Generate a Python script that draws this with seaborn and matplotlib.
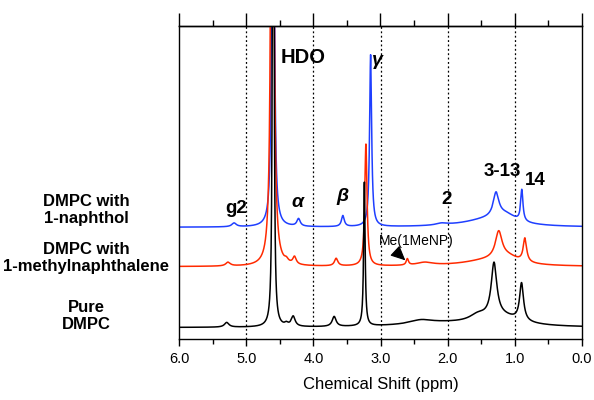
import numpy as np
import pandas as pd
import matplotlib
matplotlib.use("Agg")
import matplotlib.pyplot as plt
import seaborn as sns

# ---- data (ppm, height, half-width) ----
pure_base = 3.5
pure_pos = [5.29, 4.597, 4.40, 4.30, 3.69, 3.24, 2.40, 2.1, 1.55, 1.31, 1.20, 0.90]
pure_h   = [1.5, 420.0, 0.8, 3.2, 3.2, 46.0, 1.2, 1.2, 2.0, 17.0, 3.0, 12.0]
pure_w   = [0.04, 0.008, 0.03, 0.035, 0.035, 0.013, 0.2, 0.7, 0.15, 0.05, 0.35, 0.035]

mnp_base = 23.0
mnp_pos = [5.27, 4.61, 4.40, 4.28, 3.66, 3.217, 2.60, 2.34, 1.40, 1.24, 1.10, 0.85]
mnp_h   = [1.2, 420.0, 0.9, 2.4, 2.4, 39.0, 2.0, 1.0, 1.8, 8.5, 2.0, 7.5]
mnp_w   = [0.04, 0.015, 0.03, 0.03, 0.03, 0.02, 0.02, 0.15, 0.45, 0.06, 0.2, 0.03]

nol_base = 35.6
nol_pos = [5.18, 4.60, 4.22, 3.56, 3.147, 2.09, 1.40, 1.28, 1.14, 0.896]
nol_h   = [1.2, 420.0, 2.4, 3.5, 55.0, 0.6, 2.2, 7.5, 2.6, 10.0]
nol_w   = [0.04, 0.011, 0.03, 0.025, 0.018, 0.1, 0.45, 0.05, 0.2, 0.02]

trace_names = ["Pure DMPC", "DMPC with 1-methylnaphthalene", "DMPC with 1-naphthol"]
trace_colors = ["#000000", "#ff2a00", "#1f3fff"]

ppm_min, ppm_max = 0.0, 6.0
tick_vals = [6.0, 5.0, 4.0, 3.0, 2.0, 1.0, 0.0]
tick_labels = ["6.0", "5.0", "4.0", "3.0", "2.0", "1.0", "0.0"]
dotted_at = [5.0, 4.0, 3.0, 2.0, 1.0]


def spectrum(x, base, pos, h, w):
    y = np.full_like(x, base)
    for p, a, g in zip(pos, h, w):
        y += a * g**2 / ((x - p) ** 2 + g**2)
    return y


x = np.linspace(ppm_min, ppm_max, 12001)
frames = []
for name, (b, p, h, w) in zip(trace_names, [(pure_base, pure_pos, pure_h, pure_w),
                                             (mnp_base, mnp_pos, mnp_h, mnp_w),
                                             (nol_base, nol_pos, nol_h, nol_w)]):
    frames.append(pd.DataFrame({"ppm": x, "I": spectrum(x, b, p, h, w), "sample": name}))
df = pd.concat(frames, ignore_index=True)

sns.set_theme(style="ticks")
plt.rcParams["font.family"] = ["Liberation Sans", "DejaVu Sans"]
plt.rcParams["text.color"] = "black"
plt.rcParams["axes.labelcolor"] = "black"
plt.rcParams["xtick.color"] = "black"
plt.rcParams["axes.edgecolor"] = "black"

fig = plt.figure(figsize=(5.94, 4.0), dpi=100)
ax = fig.add_axes([179 / 594, 1 - 338.5 / 400, (582 - 179) / 594, (338.5 - 26) / 400])

# draw blue, red, then black on top
for name, col in zip(trace_names[::-1], trace_colors[::-1]):
    sns.lineplot(data=df[df["sample"] == name], x="ppm", y="I", color=col,
                 lw=1.1, ax=ax, legend=False, estimator=None, sort=False)

for v in dotted_at:
    ax.axvline(v, color="black", ls=(0, (1.5, 2.0)), lw=0.9, zorder=0)

ax.set_xlim(ppm_max, ppm_min)
ax.set_ylim(0, 100)
ax.set_yticks([])
ax.set_ylabel("")
ax.set_xticks(tick_vals)
ax.set_xticklabels(tick_labels, fontsize=10.5, color="black")
ax.set_xticks(np.arange(0.5, 6.0, 1.0), minor=True)
ax.tick_params(axis="x", which="major", direction="out", length=5, width=1, color="black", pad=5)
ax.tick_params(axis="x", which="minor", direction="out", length=3.5, width=1, color="black")
ax.set_xlabel("Chemical Shift (ppm)", fontsize=12, labelpad=8, color="black")
for s in ax.spines.values():
    s.set_color("black")
    s.set_linewidth(1.0)

top = ax.secondary_xaxis("top")
top.set_xticks(tick_vals)
top.set_xticks(np.arange(0.5, 6.0, 1.0), minor=True)
top.set_xticklabels([])
top.tick_params(axis="x", which="major", direction="out", length=9.5, width=1, color="black")
top.tick_params(axis="x", which="minor", direction="out", length=4.5, width=1, color="black")
top.spines["top"].set_linewidth(1.0)
top.spines["top"].set_color("black")

# peak labels
bold = dict(fontweight="bold", color="black")
ax.text(4.49, 90, "HDO", fontsize=14.5, ha="left", va="center", **bold)
ax.text(3.04, 89, "γ", fontsize=14, ha="center", va="center", style="italic", **bold)
ax.text(5.15, 41.7, "g2", fontsize=13.5, ha="center", va="center", **bold)
ax.text(4.23, 43.5, "α", fontsize=14, ha="center", va="center", style="italic", **bold)
ax.text(3.56, 45.5, "β", fontsize=14, ha="center", va="center", style="italic", **bold)
ax.text(2.01, 44.5, "2", fontsize=13.5, ha="center", va="center", **bold)
ax.text(1.19, 53.5, "3-13", fontsize=13.5, ha="center", va="center", **bold)
ax.text(0.69, 50.5, "14", fontsize=13.5, ha="center", va="center", **bold)
ax.annotate("", xy=(2.63, 25.0), xytext=(2.76, 27.6),
            arrowprops=dict(arrowstyle="-|>,head_length=0.75,head_width=0.35",
                            color="black", lw=0.8, shrinkA=0, shrinkB=0))
ax.text(2.47, 31.2, "Me(1MeNP)", fontsize=10, ha="center", va="center", color="black")

# sample labels on the left
lab_kw = dict(fontsize=12, fontweight="bold", ha="center", va="center", linespacing=1.12,
              color="black")
fig.text(86 / 594, 1 - 210 / 400, "DMPC with\n1-naphthol", **lab_kw)
fig.text(86 / 594, 1 - 258 / 400, "DMPC with\n1-methylnaphthalene", **lab_kw)
fig.text(86 / 594, 1 - 316 / 400, "Pure\nDMPC", **lab_kw)

fig.savefig("out.png", dpi=100)
